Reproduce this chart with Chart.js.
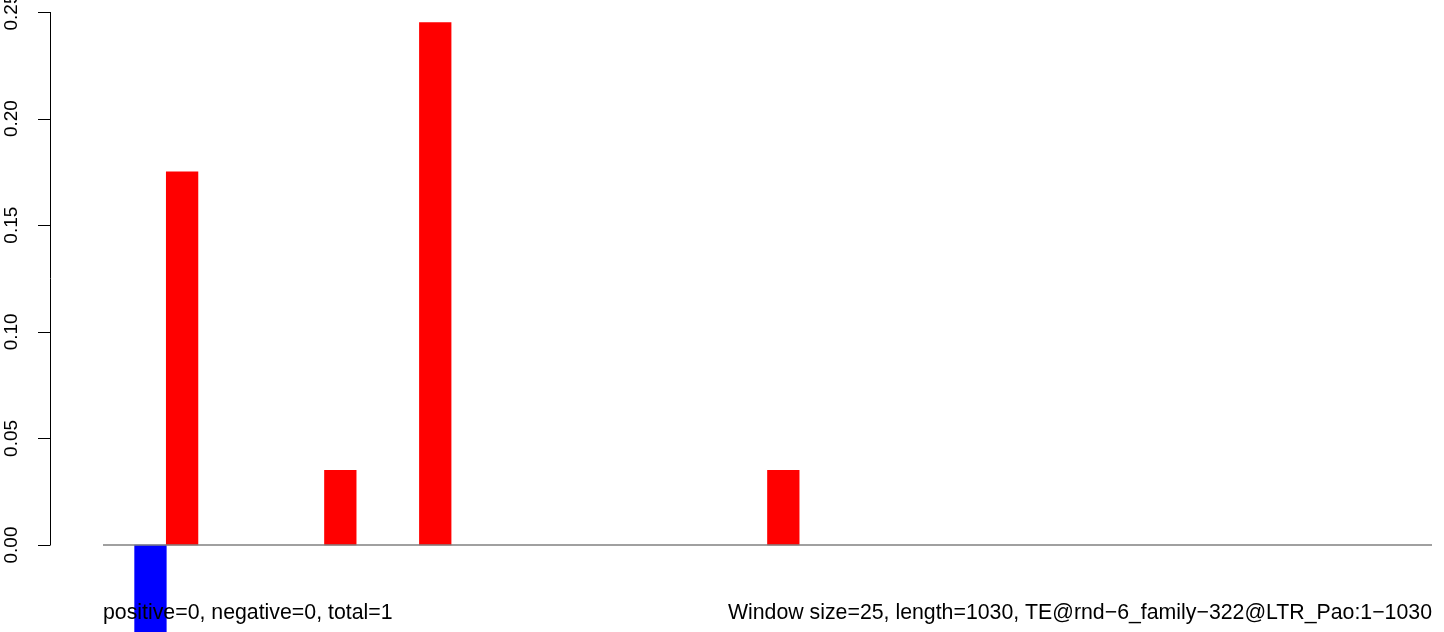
<!DOCTYPE html>
<html>
<head>
<meta charset="utf-8">
<script src="https://cdn.jsdelivr.net/npm/chart.js@4/dist/chart.umd.min.js"></script>
<style>
  html, body { margin: 0; padding: 0; background: #fff; }
  #wrap { width: 1444px; height: 632px; position: relative; }
</style>
</head>
<body>
<div id="wrap"><canvas id="chart"></canvas></div>
<script>
// one value per window (42 windows of 25 over length 1030)
const windowValues = [
  0, -0.06, 0.175, 0, 0, 0, 0, 0.035, 0, 0,
  0.245, 0, 0, 0, 0, 0, 0, 0, 0, 0,
  0, 0.035, 0, 0, 0, 0, 0, 0, 0, 0,
  0, 0, 0, 0, 0, 0, 0, 0, 0, 0,
  0, 0
];
const yTicks = [0, 0.05, 0.10, 0.15, 0.20, 0.25];
const yTickLabels = ['0.00', '0.05', '0.10', '0.15', '0.20', '0.25'];
const leftNote = 'positive=0, negative=0, total=1';
const rightNote = 'Window size=25, length=1030, TE@rnd\u22126_family\u2212322@LTR_Pao:1\u22121030';

const barPoints = windowValues.map((v, i) => ({ x: i + 0.5, y: v }));
const barColors = windowValues.map(v => v < 0 ? '#0000ff' : (v > 0 ? '#ff0000' : 'rgba(0,0,0,0)'));
const nWin = windowValues.length;

const TICK_FONT = '19px "Liberation Sans", Arial, sans-serif';
const NOTE_FONT = '21.3px "Liberation Sans", Arial, sans-serif';

// R style y axis (line + ticks + rotated labels) and the two notes below
const rAxisPlugin = {
    id: 'rAxis',
    afterDatasetsDraw(chart) {
        const ctx = chart.ctx;
        const y = chart.scales.y;
        const x0 = chart.chartArea.left;
        ctx.save();
        ctx.strokeStyle = '#000';
        ctx.lineWidth = 1;
        ctx.beginPath();
        ctx.moveTo(x0 + 0.5, y.getPixelForValue(yTicks[0]));
        ctx.lineTo(x0 + 0.5, y.getPixelForValue(yTicks[yTicks.length - 1]));
        yTicks.forEach(t => {
            const p = Math.round(y.getPixelForValue(t)) + 0.5;
            ctx.moveTo(x0 + 0.5, p);
            ctx.lineTo(x0 - 12, p);
        });
        ctx.stroke();

        ctx.fillStyle = '#000';
        ctx.font = TICK_FONT;
        ctx.textAlign = 'center';
        ctx.textBaseline = 'alphabetic';
        yTicks.forEach((t, i) => {
            ctx.save();
            ctx.translate(17, y.getPixelForValue(t));
            ctx.rotate(-Math.PI / 2);
            ctx.fillText(yTickLabels[i], 0, 0);
            ctx.restore();
        });

        const xs = chart.scales.x;
        ctx.font = NOTE_FONT;
        ctx.textAlign = 'left';
        ctx.fillText(leftNote, xs.getPixelForValue(0), 619);
        ctx.textAlign = 'right';
        ctx.fillText(rightNote, xs.getPixelForValue(nWin), 619);
        ctx.restore();
    }
};

new Chart(document.getElementById('chart'), {
    type: 'bar',
    data: {
        datasets: [
            {
                type: 'line',
                data: [{ x: 0, y: 0 }, { x: nWin, y: 0 }],
                borderColor: '#808080',
                borderWidth: 1.3,
                pointRadius: 0,
                order: 0
            },
            {
                data: barPoints,
                backgroundColor: barColors,
                borderWidth: 0,
                barPercentage: 1,
                categoryPercentage: 1,
                order: 1
            }
        ]
    },
    options: {
        responsive: true,
        maintainAspectRatio: false,
        animation: false,
        layout: { padding: { left: 50, right: 12, top: 12, bottom: 0 } },
        plugins: { legend: { display: false }, tooltip: { enabled: false }, title: { display: false } },
        scales: {
            x: {
                type: 'linear',
                display: false,
                offset: false,
                min: -53 / 31.64,
                max: nWin
            },
            y: {
                display: false,
                min: -(632 - 545) / 2132,
                max: 0.25
            }
        }
    },
    plugins: [rAxisPlugin]
});
</script>
</body>
</html>
